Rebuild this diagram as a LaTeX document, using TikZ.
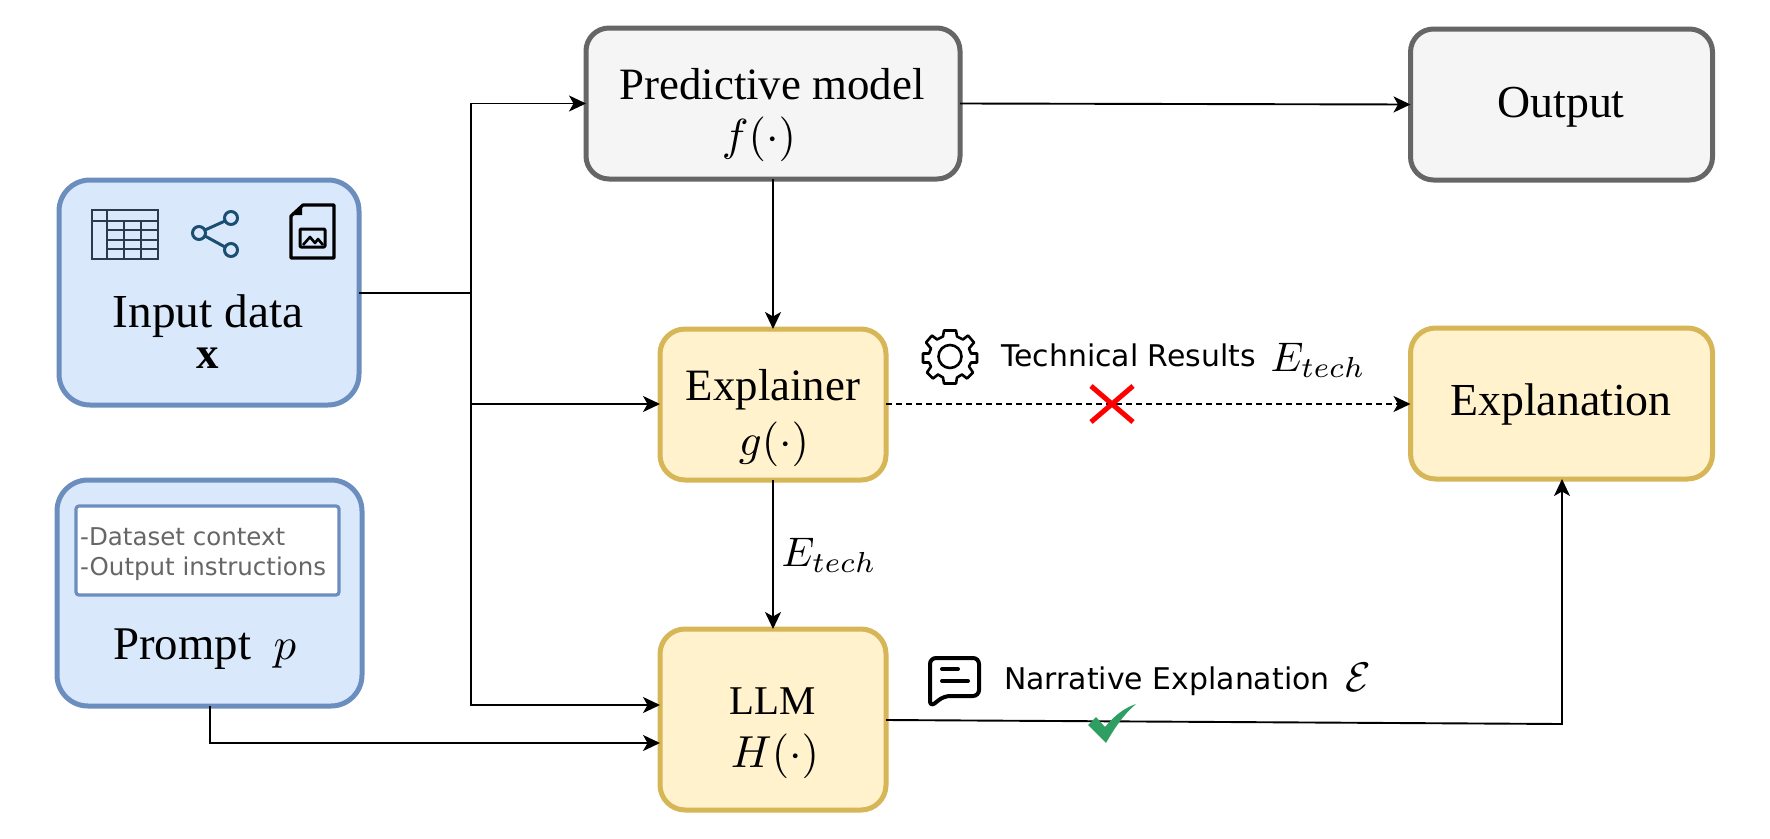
\documentclass[tikz,border=0pt]{standalone}
\usepackage{amsmath}
\usepackage{graphicx}
\usepackage{fontspec}
\setmainfont{Liberation Serif}
\newfontfamily\djfont{DejaVu Sans}
\usetikzlibrary{arrows.meta}
\newcommand{\bigmath}[1]{\scalebox{4.5}{\normalsize$#1$}}
\newcommand{\midmath}[1]{\scalebox{4.15}{\normalsize$#1$}}
\definecolor{bluefill}{HTML}{DAE8FC}
\definecolor{blueline}{HTML}{6C8EBF}
\definecolor{grayfill}{HTML}{F5F5F5}
\definecolor{grayline}{HTML}{666666}
\definecolor{yelfill}{HTML}{FFF2CC}
\definecolor{yelline}{HTML}{D6B656}
\definecolor{icondark}{HTML}{2B3A4E}
\definecolor{iconblue}{HTML}{1B4F72}
\definecolor{okgreen}{HTML}{2E9E62}
\tikzset{
 x=1bp,y=-1bp,
 box/.style={draw,line width=5bp,outer sep=0pt,font=\fontsize{45}{50}\selectfont,align=center,anchor=north west,inner sep=0pt},
 blueb/.style={box,rounded corners=31bp,fill=bluefill,draw=blueline},
 grayb/.style={box,rounded corners=23bp,fill=grayfill,draw=grayline},
 yelb/.style={box,rounded corners=25bp,fill=yelfill,draw=yelline},
 conn/.style={line width=1.9bp,-{Stealth[length=17bp,width=16bp,inset=4.5bp]}},
 lab/.style={font=\djfont\fontsize{30}{36}\selectfont,anchor=west,inner sep=0pt},
 mathlab/.style={font=\fontsize{45}{50}\selectfont,inner sep=0pt},
}
\begin{document}
\begin{tikzpicture}
\useasboundingbox (0,0) rectangle (1770,839);
% boxes
\node[blueb,minimum width=300bp,minimum height=225bp] (input) at (59,180) {};
\node[blueb,minimum width=305bp,minimum height=226bp] (prompt) at (57,480) {};
\node[draw=blueline,fill=white,line width=3.2bp,outer sep=0pt,rounded corners=3bp,anchor=north west,minimum width=263bp,minimum height=89bp,inner sep=0pt] (inner) at (76,506) {};
\node[grayb,minimum width=374bp,minimum height=151bp] (pred) at (586,28) {};
\node[grayb,minimum width=302bp,minimum height=151bp] (output) at (1410.5,29) {};
\node[yelb,minimum width=226bp,minimum height=151bp] (expl) at (660,329) {};
\node[yelb,minimum width=302bp,minimum height=151bp] (explan) at (1410.5,328) {};
\node[yelb,minimum width=226bp,minimum height=181bp] (llm) at (660,629) {};
% box texts
\node[mathlab,font=\fontsize{47.5}{50}\selectfont] (t1) at (208,316) {Input data};
\node[mathlab] (t2) at (208,358) {\bigmath{\mathbf{x}}};
\node[mathlab,anchor=base west,font=\fontsize{47}{50}\selectfont] (t3) at (113,659) {Prompt};
\node[mathlab,anchor=base] (t3b) at (285,659) {\bigmath{p}};
\node[font=\djfont\fontsize{24.6}{30}\selectfont,text=grayline,align=left,inner sep=0pt,anchor=west] (t4) at (80,554) {-Dataset context\\-Output instructions};
\node[mathlab] (t5) at (772,84) {Predictive model};
\node[mathlab] (t6) at (759,139) {\bigmath{f(\cdot)}};
\node[mathlab] (t7) at (773,390) {Explainer};
\node[mathlab] (t8) at (774,444) {\bigmath{g(\cdot)}};
\node[mathlab,font=\fontsize{41}{50}\selectfont] (t9) at (773,701) {LLM};
\node[mathlab] (t10) at (775,756) {\bigmath{H(\cdot)}};
\node[mathlab,font=\fontsize{46}{50}\selectfont] (t11) at (1561,107) {Output};
\node[mathlab,font=\fontsize{46}{50}\selectfont] (t12) at (1561,404) {Explanation};
% labels
\node[lab] (l1) at (1001,355) {Technical Results};
\node[mathlab] (l2) at (1318,360) {\midmath{E_{tech}}};
\node[mathlab] (l3) at (829,555) {\midmath{E_{tech}}};
\node[lab] (l4) at (1004,681) {Narrative Explanation};
\node[mathlab] (l5) at (1358,677) {\midmath{\mathcal{E}}};
% connectors
\coordinate (j) at (471,293);
\draw[line width=2.4bp] (input.east |- j) -- (j);
\draw[conn] (j) |- (pred.west |- 0,103.5);
\draw[conn] (j) |- (expl.west |- 0,404);
\draw[conn] (j) |- (llm.west |- 0,705);
\draw[conn] (pred.east |- 0,103.5) -- (output.west |- 0,104.5);
\draw[conn] (773,179) -- (773,329);
\draw[conn] (773,480) -- (773,629);
\draw[conn,line width=1.6bp,dash pattern=on 6bp off 4bp] (expl.east |- 0,404) -- (explan.west |- 0,404);
\coordinate (pb) at (210,706);
\draw[conn] (pb) |- (llm.west |- 0,743);
\coordinate (bend) at (1562,724);
\draw[conn] (llm.east |- 0,720) -- (bend) -- (explan.south -| bend);
% red cross
\draw[red,line width=5bp] (1091,386) -- (1133,422) (1133,386) -- (1091,422);
% green check
\fill[okgreen] (1088,725) -- (1096,717) -- (1105,727) .. controls (1114,716) and (1124,708) .. (1136,704) .. controls (1125,713) and (1115,727) .. (1106,743) -- cycle;
% table icon
\begin{scope}[icondark,line width=2.8bp]
\draw (92,210) rectangle (158,259);
\draw (92,221) -- (158,221);
\foreach \y in {230,240,249} \draw (107,\y) -- (158,\y);
\draw (107,210) -- (107,259);
\foreach \x in {124,141} \draw (\x,221) -- (\x,259);
\end{scope}
% share icon
\begin{scope}[iconblue,line width=3bp]
\draw (199,233) circle (6.5bp) (231,218) circle (6.5bp) (231,250) circle (6.5bp);
\draw (205,230) -- (225,221) (205,236) -- (225,247);
\end{scope}
% image file icon
\begin{scope}[black,line width=3.2bp,line join=round]
\draw (303,205) -- (334,205) -- (334,258) -- (291,258) -- (291,216) -- cycle;
\fill (302,207) -- (302,215) -- (293,215) -- cycle;
\draw[rounded corners=1bp,line width=3bp] (300,229) rectangle (325,247);
\draw[line width=2.6bp] (303,245) -- (310,237) -- (315,243) -- (318,239) -- (323,245);
\end{scope}
% gear icon
\begin{scope}[shift={(950,356.5)},black,line width=2.6bp,line join=round]
\draw (0,0) circle (11.5bp);
\draw plot[smooth cycle,tension=0] coordinates {
 (-6,-26)(6,-26)(7,-20)(13,-17)(18,-21)(24,-14)(19,-8)(21,-3)(27,-3)(27,6)(21,6)(19,10)(23,16)(17,22)(12,18)(7,21)(6,27)(-6,27)(-7,21)(-12,18)(-17,22)(-23,16)(-19,10)(-21,6)(-27,6)(-27,-3)(-21,-3)(-19,-8)(-24,-14)(-18,-21)(-13,-17)(-7,-20)};
\end{scope}
% chat icon
\begin{scope}[black,line width=4bp,line join=round]
\draw[rounded corners=6bp] (930,658) -- (930,707) -- (944,696) -- (979,696) -- (979,658) -- cycle;
\draw[line cap=round] (942,669) -- (958,669) (942,681) -- (968,681);
\end{scope}
\end{tikzpicture}
\end{document}
